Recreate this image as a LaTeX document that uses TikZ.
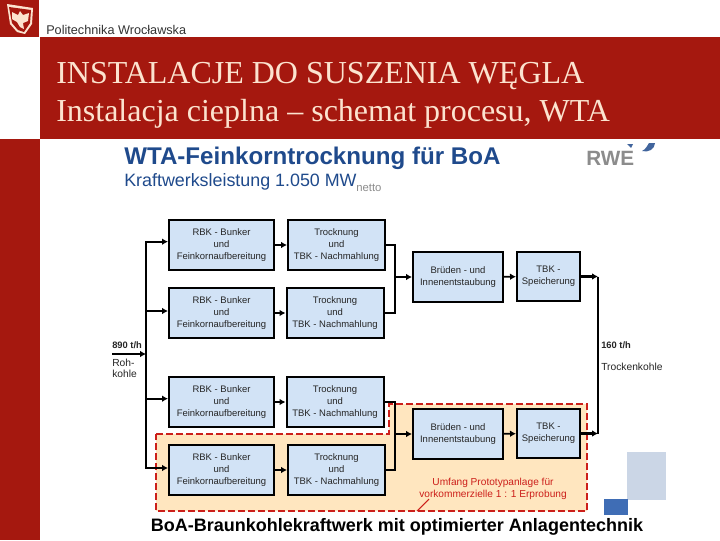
\documentclass[tikz,border=0pt]{standalone}
\usepackage{fontspec}
\setmainfont{Liberation Sans}
\newfontfamily\titlefont{Liberation Serif}
\usetikzlibrary{arrows.meta,positioning}
\definecolor{PwrRed}{HTML}{A5180F}
\definecolor{PwrPeach}{HTML}{FCE3CF}
\definecolor{RweBlue}{HTML}{1F4A8C}
\definecolor{RweGray}{HTML}{8C8C8C}
\definecolor{BoxBlue}{HTML}{D2E3F6}
\definecolor{ProtoFill}{HTML}{FFE6BF}
\definecolor{ProtoRed}{HTML}{CC1F1A}
\definecolor{PaleTile}{HTML}{CBD6E6}
\definecolor{DeepTile}{HTML}{3F6DB5}
\tikzset{
  unitbox/.style={draw=black,fill=BoxBlue,line width=1.5pt,align=center,inner sep=0pt,
    font=\fontsize{7.1}{9}\selectfont,text=black!85},
  bunkerbox/.style={unitbox,minimum width=78.75pt,minimum height=37.5pt},
  dryerbox/.style={unitbox,minimum width=72.75pt,minimum height=37.5pt},
  ventbox/.style={unitbox,minimum width=67.5pt,minimum height=37.5pt},
  storebox/.style={unitbox,minimum width=47.25pt,minimum height=37pt},
  flowline/.style={black,line width=1.3pt},
  flowarrow/.style={flowline,-{Latex[length=4.5pt,width=5pt]}},
  heavyarrow/.style={flowarrow,line width=1.9pt},
  flowlabel/.style={anchor=west,inner sep=0pt,font=\fontsize{7.7}{8.4}\selectfont,text=black!85},
  ratelabel/.style={flowlabel,font=\bfseries\fontsize{7}{8.4}\selectfont},
  titleline/.style={anchor=base west,inner sep=0pt,font=\titlefont\fontsize{24}{27}\selectfont,text=PwrPeach}
}
\begin{document}
\begin{tikzpicture}[x=0.75pt,y=-0.75pt]
    \useasboundingbox (0,0) rectangle (720,540);
    % slide frame
    \fill[white] (0,0) rectangle (720,540);
    \fill[PwrRed] (40,37) rectangle (720,139);
    \fill[PwrRed] (0,139) rectangle (40,540);
    \fill[PwrRed] (0,0) rectangle (39,37);
    \fill[PwrPeach] (7,4) -- (33,8) -- (32,24) -- (25,34) -- (17,32) -- (10,24) -- cycle;
    \fill[PwrRed] (9,7) -- (31,10) -- (30,23) -- (24,32) -- (18,30) -- (12,23) -- cycle;
    \fill[PwrPeach] (20,11) -- (23,15) -- (29,13) -- (28,21) -- (23,23) -- (24,29) -- (20,27)
      -- (17,22) -- (12,19) -- (12,12) -- (18,15) -- cycle;
    \node[anchor=west,inner sep=0pt,font=\fontsize{9.5}{12}\selectfont,text=black!80] (school) at (46,30)
      {Politechnika Wrocławska};
    \node[titleline] (title) at (56,83) {INSTALACJE DO SUSZENIA WĘGLA};
    \node[titleline] (subtitle) at (56,121) {Instalacja cieplna – schemat procesu, WTA};

    % heading of the scheme
    \node[anchor=west,inner sep=0pt,font=\bfseries\fontsize{18.1}{20}\selectfont,text=RweBlue] (heading) at (124,158)
      {WTA-Feinkorntrocknung für BoA};
    \node[anchor=west,inner sep=0pt,font=\fontsize{13.4}{15}\selectfont,text=RweBlue] (power) at (124,182)
      {Kraftwerksleistung 1.050 MW};
    \node[anchor=west,inner sep=0pt,font=\fontsize{8.5}{9}\selectfont,text=RweGray] (powernet) at (356,188) {netto};
    \node[anchor=west,inner sep=0pt,font=\bfseries\fontsize{15.5}{17}\selectfont,text=RweGray] (rwe) at (586,158) {RWE};
    \fill[RweBlue!85] (642,151) .. controls (646,149) and (647,146) .. (649,143) -- (655,143)
      .. controls (655,149) and (648,153) .. (642,151) -- cycle;
    \fill[RweBlue!85] (627,144) -- (633,144) -- (631,148) -- cycle;

    % prototype region
    \draw[ProtoRed,fill=ProtoFill,line width=1.5pt,dashed,dash pattern=on 5pt off 2.5pt]
      (156,434) -- (389,434) -- (389,404) -- (587,404) -- (587,511) -- (156,511) -- cycle;
    \draw[ProtoRed,line width=0.8pt] (417,511) -- (429,499);
    \node[align=center,inner sep=0pt,font=\fontsize{7.6}{8.6}\selectfont,text=ProtoRed] (protolabel) at (493,489)
      {Umfang Prototypanlage für\\vorkommerzielle 1 : 1 Erprobung};

    % units
    \node[bunkerbox] (bunkerA) at (221.5,245) {RBK - Bunker\\und\\Feinkornaufbereitung};
    \node[dryerbox] (dryerA) at (336.5,245) {Trocknung\\und\\TBK - Nachmahlung};
    \node[bunkerbox] (bunkerB) at (221.5,313) {RBK - Bunker\\und\\Feinkornaufbereitung};
    \node[dryerbox] (dryerB) at (335,313) {Trocknung\\und\\TBK - Nachmahlung};
    \node[bunkerbox] (bunkerC) at (221.5,402) {RBK - Bunker\\und\\Feinkornaufbereitung};
    \node[dryerbox] (dryerC) at (335,402) {Trocknung\\und\\TBK - Nachmahlung};
    \node[bunkerbox] (bunkerD) at (221.5,470) {RBK - Bunker\\und\\Feinkornaufbereitung};
    \node[dryerbox] (dryerD) at (336.5,470) {Trocknung\\und\\TBK - Nachmahlung};
    \node[ventbox] (ventA) at (458,277) {Brüden - und\\Innenentstaubung};
    \node[storebox] (storeA) at (548.5,276.5) {TBK -\\Speicherung};
    \node[ventbox] (ventB) at (458,434) {Brüden - und\\Innenentstaubung};
    \node[storebox] (storeB) at (548.5,433.5) {TBK -\\Speicherung};

    % joints
    \coordinate (inlet) at (112,354);
    \coordinate (feed) at (146,354);
    \coordinate (joinA) at (395,277);
    \coordinate (joinB) at (395,434);
    \coordinate (outletA) at (598,276.5);
    \coordinate (outletB) at (598,433.5);

    % flows
    \draw[heavyarrow] (inlet) -- (feed);
    \draw[flowarrow] (feed) |- ([yshift=2.5pt]bunkerA.west);
    \draw[flowarrow] (feed) |- ([yshift=1.5pt]bunkerB.west);
    \draw[flowarrow] (feed) |- ([yshift=2.5pt]bunkerC.west);
    \draw[flowarrow] (feed) |- ([yshift=1.5pt]bunkerD.west);
    \draw[flowarrow] (bunkerA) -- (dryerA);
    \draw[flowarrow] (bunkerB) -- (dryerB);
    \draw[flowarrow] (bunkerC) -- (dryerC);
    \draw[flowarrow] (bunkerD) -- (dryerD);
    \draw[flowline] (dryerA.east) -| (joinA) |- (dryerB.east);
    \draw[flowline] (dryerC.east) -| (joinB) |- (dryerD.east);
    \draw[flowarrow] (joinA) -- (ventA);
    \draw[flowarrow] (joinB) -- (ventB);
    \draw[flowarrow] (ventA) -- (storeA);
    \draw[flowarrow] (ventB) -- (storeB);
    \draw[heavyarrow] (storeA) -- (outletA);
    \draw[heavyarrow] (storeB) -- (outletB);
    \draw[flowline] (outletA) -- (outletB);

    % stream labels
    \node[ratelabel] (inrate) at (112,345) {890 t/h};
    \node[flowlabel,align=left] (inname) at (112,368) {Roh-\\kohle};
    \node[ratelabel] (outrate) at (601,345) {160 t/h};
    \node[flowlabel] (outname) at (601,367) {Trockenkohle};

    % corner tiles and caption
    \fill[PaleTile] (627,452) rectangle (666,500);
    \fill[DeepTile] (604,499) rectangle (628,515);
    \node[inner sep=0pt,font=\bfseries\fontsize{13.5}{15}\selectfont] (caption) at (397,527)
      {BoA-Braunkohlekraftwerk mit optimierter Anlagentechnik};
  \end{tikzpicture}
\end{document}
